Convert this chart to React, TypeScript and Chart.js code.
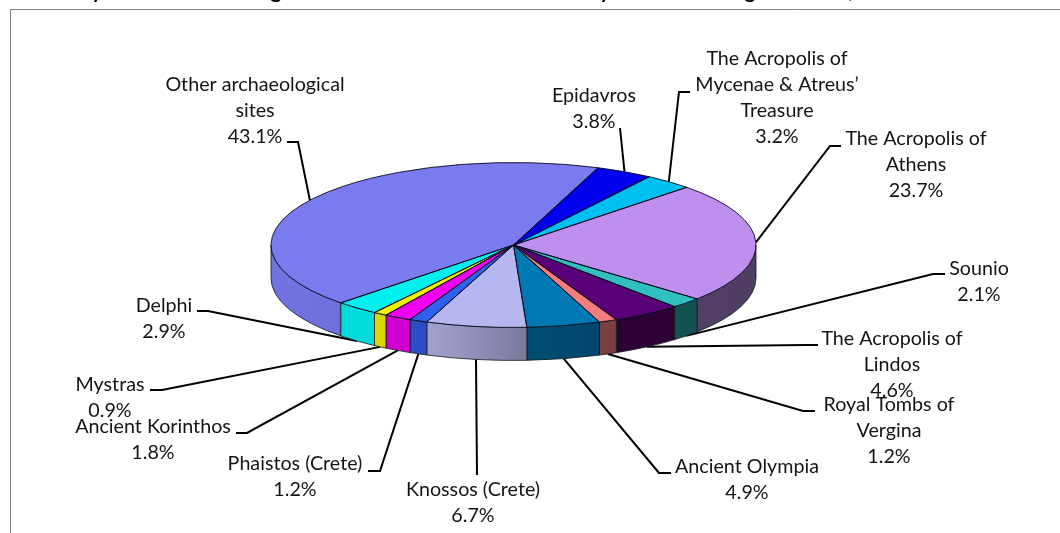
import React, { useEffect, useRef } from "react";
import { Chart, registerables } from "chart.js";

Chart.register(...registerables);

const categories = [
  "Other archaeological sites", "Epidavros", "The Acropolis of Mycenae & Atreus’ Treasure",
  "The Acropolis of Athens", "Sounio", "The Acropolis of Lindos", "Royal Tombs of Vergina",
  "Ancient Olympia", "Knossos (Crete)", "Phaistos (Crete)", "Ancient Korinthos", "Mystras", "Delphi",
];
const shares = [43.1, 3.8, 3.2, 23.7, 2.1, 4.6, 1.2, 4.9, 6.7, 1.2, 1.8, 0.9, 2.9];
const topColors = [
  "#7b7bf0", "#0000ee", "#00c0f2", "#bf8ff0", "#30c0c0", "#5a0078", "#f47c7c",
  "#0078b4", "#b6b6f0", "#3060ee", "#f000f0", "#f0f000", "#00f0f0",
];
const sideStart = [
  "#7272e0", "#0000c0", "#00a0c8", "#523f66", "#145252", "#2a0035", "#7a4040",
  "#004e74", "#a2a2ce", "#2c4cc8", "#d000d0", "#d8d800", "#00dcdc",
];
const sideEnd = [
  "#6e6edc", "#0000c0", "#00a0c8", "#4e3e60", "#145050", "#2a0035", "#7a4040",
  "#00466c", "#7a7a9e", "#2c4cc8", "#d000d0", "#d8d800", "#00dcdc",
];
const labelLines = [
  ["Other archaeological", "sites"], ["Epidavros"], ["The Acropolis of", "Mycenae & Atreus’", "Treasure"],
  ["The Acropolis of", "Athens"], ["Sounio"], ["The Acropolis of", "Lindos"], ["Royal Tombs of", "Vergina"],
  ["Ancient Olympia"], ["Knossos (Crete)"], ["Phaistos (Crete)"], ["Ancient Korinthos"], ["Mystras"], ["Delphi"],
];
const labelCenterX = [255, 594, 777, 916, 979, 892, 889, 747, 473, 295, 153, 110, 164];
const labelFirstY = [85, 96, 59, 139, 269, 339, 405, 467, 490, 464, 427, 385, 306];
const leaderEnd = [
  [287, 142], [620, 128], [690, 92], [841, 146], [945, 274], [818, 345], [815, 411],
  [671, 473], [477, 475], [368, 471], [236, 433], [150, 390], [197, 311],
];
const leaderElbow = [
  [298, 142], null, [679, 92], [830, 146], [933, 274], [806, 345], [803, 411],
  [659, 473], null, [380, 471], [247, 433], [162, 390], [208, 311],
];
const titleFragments = [["y", 97], ["g", 276], ["y", 605], ["g", 750], [",", 851]];

const SQUASH = 0.34;
const DEPTH = 33;
const LINE_GAP = 26;
const FONT = '19.7px Lato, "Noto Sans", sans-serif';

const pie3d = {
  id: "pie3d",
  beforeDraw(chart: any) {
    const c = chart.ctx;
    c.save();
    c.strokeStyle = "#808080";
    c.lineWidth = 1;
    c.beginPath();
    c.moveTo(10.5, 533);
    c.lineTo(10.5, 9.5);
    c.lineTo(1060, 9.5);
    c.stroke();
    c.fillStyle = "#000";
    c.font = 'bold 21px Lato, sans-serif';
    c.textAlign = "center";
    c.textBaseline = "alphabetic";
    titleFragments.forEach(([t, x]: any) => c.fillText(t, x, -2.5));
    c.restore();
  },
  beforeDatasetsDraw(chart: any) {
    const c = chart.ctx;
    const arcs = chart.getDatasetMeta(0).data;
    const cx = arcs[0].x, cy = arcs[0].y, rx = arcs[0].outerRadius, ry = rx * SQUASH;

    // leader lines, behind the pie
    c.save();
    c.strokeStyle = "#000";
    c.lineWidth = 2;
    arcs.forEach((a: any, i: number) => {
      const mid = (a.startAngle + a.endAngle) / 2;
      const sin = Math.sin(mid);
      const x = cx + rx * Math.cos(mid);
      const y = cy + ry * sin + (sin > 0.02 ? DEPTH : 0);
      c.beginPath();
      c.moveTo(x, y);
      const e = leaderElbow[i];
      if (e) c.lineTo(e[0], e[1]);
      c.lineTo(leaderEnd[i][0], leaderEnd[i][1]);
      c.stroke();
    });
    c.restore();

    // side wall
    c.save();
    arcs.forEach((a: any, i: number) => {
      [-2 * Math.PI, 0, 2 * Math.PI].forEach((k) => {
        const lo = Math.max(a.startAngle + k, 0);
        const hi = Math.min(a.endAngle + k, Math.PI);
        if (lo >= hi) return;
        const x0 = cx + rx * Math.cos(lo), x1 = cx + rx * Math.cos(hi);
        const g = c.createLinearGradient(x1, 0, x0, 0);
        g.addColorStop(0, sideStart[i]);
        g.addColorStop(1, sideEnd[i]);
        c.beginPath();
        c.ellipse(cx, cy, rx, ry, 0, lo, hi);
        c.ellipse(cx, cy + DEPTH, rx, ry, 0, hi, lo, true);
        c.closePath();
        c.fillStyle = g;
        c.fill();
        c.strokeStyle = "#0b1a1a";
        c.lineWidth = 0.8;
        c.stroke();
      });
    });
    c.restore();

    // squash the library's own arcs into the tilted top face
    c.save();
    c.translate(cx, cy);
    c.scale(1, SQUASH);
    c.translate(-cx, -cy);
  },
  afterDatasetsDraw(chart: any) {
    const c = chart.ctx;
    c.restore();
    const arcs = chart.getDatasetMeta(0).data;
    const cx = arcs[0].x, cy = arcs[0].y, rx = arcs[0].outerRadius, ry = rx * SQUASH;

    c.save();
    c.strokeStyle = "#0a0a1e";
    c.lineWidth = 0.9;
    arcs.forEach((a: any) => {
      c.beginPath();
      c.moveTo(cx, cy);
      c.ellipse(cx, cy, rx, ry, 0, a.startAngle, a.endAngle);
      c.closePath();
      c.stroke();
    });
    c.restore();

    c.save();
    c.fillStyle = "#141414";
    c.font = FONT;
    c.textAlign = "center";
    c.textBaseline = "middle";
    labelLines.forEach((lines, i) => {
      const all = [...lines, `${shares[i].toFixed(1)}%`];
      all.forEach((t, j) => c.fillText(t, labelCenterX[i], labelFirstY[i] + j * LINE_GAP));
    });
    c.restore();
  },
};

export default function App() {
  const ref = useRef<HTMLCanvasElement>(null);
  useEffect(() => {
    const chart = new Chart(ref.current as HTMLCanvasElement, {
      type: "pie",
      data: {
        labels: categories,
        datasets: [{ data: shares, backgroundColor: topColors, borderWidth: 0 }],
      },
      options: {
        animation: false,
        responsive: false,
        rotation: 225.4,
        layout: { padding: { left: 271, right: 304, top: 2.5, bottom: 45.5 } },
        plugins: { legend: { display: false }, tooltip: { enabled: false }, title: { display: false } },
      },
      plugins: [pie3d],
    } as any);
    return () => chart.destroy();
  }, []);
  return (
    <canvas
      ref={ref}
      width={1060}
      height={533}
      style={{ position: "fixed", left: 0, top: 0, width: 1060, height: 533, display: "block" }}
    />
  );
}
